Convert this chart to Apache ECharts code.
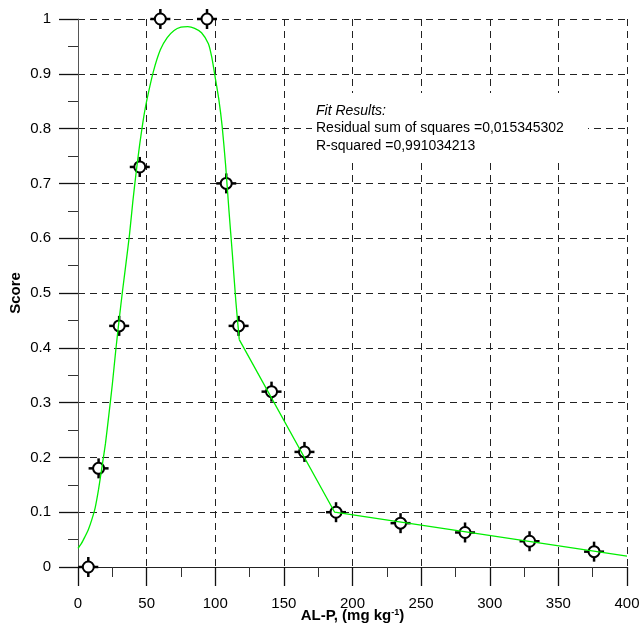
<!DOCTYPE html>
<html>
<head>
<meta charset="utf-8">
<script src="https://cdn.jsdelivr.net/npm/echarts@6/dist/echarts.min.js"></script>
<style>html,body{margin:0;padding:0;background:#fff}#c{width:640px;height:629px}</style>
</head>
<body>
<div id="c"></div>
<script>
// Measured data points
const pointX = [7.5, 15, 30, 45, 60, 94, 108, 117, 141, 165, 188, 235, 282, 329, 376];
const pointY = [0, 0.18, 0.44, 0.73, 1.0, 1.0, 0.70, 0.44, 0.32, 0.21, 0.10, 0.08, 0.063, 0.047, 0.028];
// Fitted curve: smooth rising/falling part
const curveX1 = [0, 2.5, 5, 7.5, 10, 12.5, 15, 17.5, 20, 22.5, 25, 27.5, 30, 32.5, 35, 37.5, 40, 42.5, 45, 47.5, 50, 55, 60, 65, 70, 75, 80, 85, 90, 95, 97.5, 100, 102.5, 105, 107.5, 110, 112.5, 115, 117.5];
const curveY1 = [0.034, 0.043, 0.055, 0.068, 0.086, 0.108, 0.142, 0.183, 0.225, 0.278, 0.333, 0.395, 0.452, 0.505, 0.555, 0.606, 0.668, 0.723, 0.772, 0.815, 0.85, 0.905, 0.944, 0.966, 0.979, 0.985, 0.986, 0.983, 0.975, 0.955, 0.93, 0.893, 0.855, 0.805, 0.735, 0.65, 0.57, 0.485, 0.415];
// Linear tail segments
const curveX2 = [117.5, 187, 400];
const curveY2 = [0.415, 0.10, 0.02];
const fitLines = ['Fit Results:', 'Residual sum of squares =0,015345302', 'R-squared =0,991034213'];

const FONT = 'Liberation Sans, Arial, Helvetica, sans-serif';
const zip = (a, b) => a.map((v, i) => [v, b[i]]);

const chart = echarts.init(document.getElementById('c'), null, {renderer: 'canvas'});
const dash = {type: [7, 5], color: '#222', width: 1};

const graphics = [{
  type: 'rect', z: 50, silent: true,
  shape: {x: 312, y: 93, width: 276, height: 69},
  style: {fill: '#fff'}
}].concat(fitLines.map((t, i) => ({
  type: 'text', left: 316, top: 104 + i * 17.5, z: 60,
  style: {text: t, fontFamily: FONT, fontSize: 14, fill: '#000', fontStyle: i === 0 ? 'italic' : 'normal'}
})));

chart.setOption({
  animation: false,
  backgroundColor: '#fff',
  grid: {left: 78, right: 13, top: 19, bottom: 62, containLabel: false, outerBoundsMode: 'none'},
  xAxis: {
    type: 'value', min: 0, max: 400, interval: 50,
    name: 'AL-P, (mg kg{sup|-1})', nameLocation: 'middle', nameGap: 41, nameMoveOverlap: false,
    nameTextStyle: {fontFamily: FONT, fontSize: 15, fontWeight: 'bold', color: '#000',
      rich: {sup: {fontFamily: FONT, fontSize: 9, fontWeight: 'bold', color: '#000', verticalAlign: 'bottom', padding: [0, 0, 6, 0]}}},
    axisLine: {show: true, onZero: false, lineStyle: {color: '#222', width: 1}},
    axisTick: {show: true, interval: 0, inside: false, length: 19, lineStyle: {color: '#111', width: 1.3}},
    minorTick: {show: true, splitNumber: 2, length: 10, lineStyle: {color: '#333', width: 1}},
    axisLabel: {fontFamily: FONT, fontSize: 15, color: '#000', margin: 29},
    splitLine: {show: true, lineStyle: dash}
  },
  yAxis: {
    type: 'value', min: 0, max: 1, interval: 0.1,
    name: 'Score', nameLocation: 'middle', nameGap: 55, nameRotate: 90, nameMoveOverlap: false,
    nameTextStyle: {fontFamily: FONT, fontSize: 15, fontWeight: 'bold', color: '#000'},
    axisLine: {show: true, onZero: false, lineStyle: {color: '#555', width: 1}},
    axisTick: {show: true, interval: 0, inside: false, length: 19, lineStyle: {color: '#111', width: 1.3}},
    minorTick: {show: true, splitNumber: 2, length: 10, lineStyle: {color: '#333', width: 1}},
    axisLabel: {fontFamily: FONT, fontSize: 15, color: '#000', margin: 27},
    splitLine: {show: true, lineStyle: dash}
  },
  graphic: graphics,
  series: [
    {
      type: 'custom', z: 2, clip: false,
      data: zip(pointX, pointY),
      encode: {x: 0, y: 1},
      renderItem: function (params, api) {
        const p = api.coord([api.value(0), api.value(1)]);
        const ls = {stroke: '#000', lineWidth: 2.5};
        return {
          type: 'group',
          children: [
            {type: 'line', shape: {x1: p[0] - 10, y1: p[1], x2: p[0] - 4, y2: p[1]}, style: ls},
            {type: 'line', shape: {x1: p[0] + 4, y1: p[1], x2: p[0] + 10, y2: p[1]}, style: ls},
            {type: 'line', shape: {x1: p[0], y1: p[1] - 10, x2: p[0], y2: p[1] - 4}, style: ls},
            {type: 'line', shape: {x1: p[0], y1: p[1] + 4, x2: p[0], y2: p[1] + 10}, style: ls},
            {type: 'circle', shape: {cx: p[0], cy: p[1], r: 5.5}, style: {fill: '#fff', stroke: '#000', lineWidth: 2}}
          ]
        };
      }
    },
    {
      type: 'line', z: 5, data: zip(curveX1, curveY1), smooth: 0.2, showSymbol: false,
      lineStyle: {color: '#00ee00', width: 1.3}
    },
    {
      type: 'line', z: 5, data: zip(curveX2, curveY2), smooth: false, showSymbol: false,
      lineStyle: {color: '#00ee00', width: 1.3}
    }
  ]
});
</script>
</body>
</html>
